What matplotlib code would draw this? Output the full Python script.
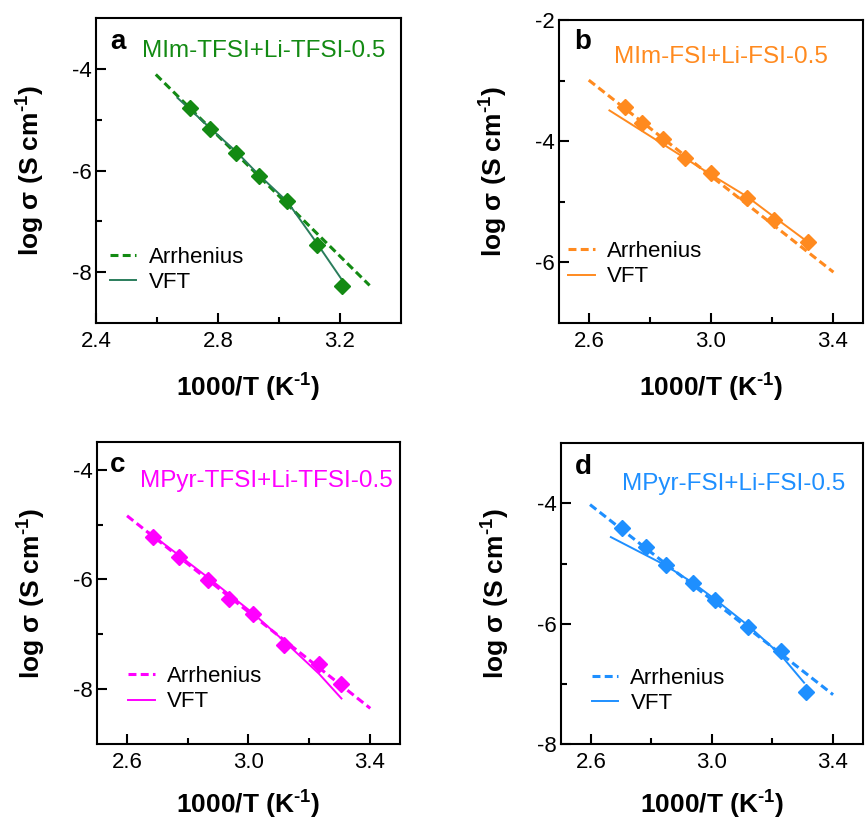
import matplotlib
matplotlib.use("Agg")
import matplotlib.pyplot as plt

plt.rcParams['font.family'] = ['Liberation Sans', 'DejaVu Sans']
plt.rcParams['axes.unicode_minus'] = False
plt.rcParams['mathtext.fontset'] = 'custom'
plt.rcParams['mathtext.rm'] = 'Liberation Sans:bold'
plt.rcParams['mathtext.bf'] = 'Liberation Sans:bold'
plt.rcParams['mathtext.default'] = 'bf'

# ---- data ----
# panel a
a_x = [2.708, 2.775, 2.860, 2.933, 3.027, 3.125, 3.207]
a_y = [-4.77, -5.19, -5.65, -6.11, -6.59, -7.47, -8.28]
a_arr_x = [2.596, 3.297]
a_arr_y = [-4.11, -8.26]
a_vft_x = [2.667, 2.775, 2.860, 2.933, 3.027, 3.123, 3.212]
a_vft_y = [-4.57, -5.17, -5.63, -6.08, -6.61, -7.42, -8.20]
# panel b
b_x = [2.718, 2.772, 2.843, 2.916, 3.000, 3.118, 3.208, 3.320]
b_y = [-3.43, -3.69, -3.97, -4.27, -4.53, -4.93, -5.30, -5.67]
b_arr_x = [2.598, 3.403]
b_arr_y = [-2.99, -6.16]
b_vft_x = [2.666, 2.843, 3.000, 3.118, 3.208, 3.334]
b_vft_y = [-3.49, -4.05, -4.55, -4.91, -5.25, -5.72]
# panel c
c_x = [2.687, 2.772, 2.868, 2.937, 3.016, 3.117, 3.233, 3.307]
c_y = [-5.23, -5.59, -6.01, -6.35, -6.63, -7.19, -7.55, -7.91]
c_arr_x = [2.600, 3.402]
c_arr_y = [-4.84, -8.35]
c_vft_x = [2.674, 2.868, 3.016, 3.117, 3.233, 3.307]
c_vft_y = [-5.15, -5.97, -6.62, -7.12, -7.72, -8.17]
# panel d
d_x = [2.704, 2.783, 2.847, 2.937, 3.012, 3.120, 3.228, 3.310]
d_y = [-4.415, -4.725, -5.02, -5.33, -5.61, -6.06, -6.46, -7.13]
d_arr_x = [2.597, 3.401]
d_arr_y = [-4.02, -7.18]
d_vft_x = [2.666, 2.847, 2.937, 3.012, 3.120, 3.228, 3.305]
d_vft_y = [-4.56, -5.03, -5.32, -5.60, -6.03, -6.52, -6.98]

letters = ['a', 'b', 'c', 'd']
titles = ['MIm-TFSI+Li-TFSI-0.5', 'MIm-FSI+Li-FSI-0.5',
          'MPyr-TFSI+Li-TFSI-0.5', 'MPyr-FSI+Li-FSI-0.5']
colors = ['#138a13', '#ff8a1f', '#ff00ff', '#1e8fff']
vft_colors = ['#2a7d5c', '#ff8a1f', '#ff00ff', '#1e8fff']

panels = [
    dict(x=a_x, y=a_y, ax_=a_arr_x, ay_=a_arr_y, vx=a_vft_x, vy=a_vft_y,
         xlim=(2.4, 3.4), ylim=(-9, -3), xmaj=[2.4, 2.8, 3.2], ymaj=[-8, -6, -4],
         pos=[0.111, 0.6075, 0.3526, 0.3706], xlp=14,
         letpos=(0.046, 0.898), titpos=(0.551, 0.873), legpos=(0.045, 0.174)),
    dict(x=b_x, y=b_y, ax_=b_arr_x, ay_=b_arr_y, vx=b_vft_x, vy=b_vft_y,
         xlim=(2.5, 3.5), ylim=(-7, -2), xmaj=[2.6, 3.0, 3.4], ymaj=[-6, -4, -2],
         pos=[0.6462, 0.6075, 0.3514, 0.368], xlp=14,
         letpos=(0.049, 0.904), titpos=(0.533, 0.857), legpos=(0.031, 0.194)),
    dict(x=c_x, y=c_y, ax_=c_arr_x, ay_=c_arr_y, vx=c_vft_x, vy=c_vft_y,
         xlim=(2.5, 3.5), ylim=(-9, -3.5), xmaj=[2.6, 3.0, 3.4], ymaj=[-8, -6, -4],
         pos=[0.1118, 0.0960, 0.3506, 0.3666], xlp=11,
         letpos=(0.044, 0.903), titpos=(0.56, 0.853), legpos=(0.104, 0.182)),
    dict(x=d_x, y=d_y, ax_=d_arr_x, ay_=d_arr_y, vx=d_vft_x, vy=d_vft_y,
         xlim=(2.5, 3.5), ylim=(-8, -3), xmaj=[2.6, 3.0, 3.4], ymaj=[-8, -6, -4],
         pos=[0.6482, 0.0960, 0.3495, 0.3654], xlp=11,
         letpos=(0.048, 0.898), titpos=(0.573, 0.845), legpos=(0.102, 0.177)),
]

fig = plt.figure(figsize=(8.65, 8.23), dpi=100)

for i, p in enumerate(panels):
    ax = fig.add_axes(p['pos'])
    col = colors[i]
    ax.plot(p['ax_'], p['ay_'], linestyle=(0, (2.6, 1.4)), color=col, lw=2.2,
            label='Arrhenius', zorder=2)
    ax.plot(p['vx'], p['vy'], '-', color=vft_colors[i], lw=1.4, label='VFT', zorder=3)
    ax.plot(p['x'], p['y'], 'D', color=col, ms=8.4, mec=col, zorder=4,
            label='_nolegend_')
    ax.set_xlim(*p['xlim'])
    ax.set_ylim(*p['ylim'])
    ax.set_xticks(p['xmaj'])
    ax.set_xticklabels(['%.1f' % v for v in p['xmaj']])
    ax.set_xticks([v + 0.2 for v in p['xmaj']
                   if v + 0.2 < p['xlim'][1] - 1e-6], minor=True)
    ax.set_yticks(p['ymaj'])
    ax.set_yticklabels(['%d' % v for v in p['ymaj']])
    ax.set_yticks([v + 1 for v in p['ymaj'] if v + 1 < p['ylim'][1] - 1e-6] +
                  ([p['ymaj'][0] - 1] if p['ymaj'][0] - 1 > p['ylim'][0] + 1e-6 else []),
                  minor=True)
    ax.tick_params(which='both', direction='in', top=False, right=False,
                   labelsize=16, width=1.5)
    ax.tick_params(which='major', length=7)
    ax.tick_params(which='minor', length=4.3)
    ax.tick_params(axis='x', pad=6)
    ax.tick_params(axis='y', pad=3)
    for s in ax.spines.values():
        s.set_linewidth(1.5)
    ax.set_xlabel('1000/T (K$^{\u2010 1}$)', fontsize=19, fontweight='bold',
                  labelpad=p['xlp'])
    ax.set_ylabel('log σ (S cm$^{\u2010 1}$)', fontsize=19, fontweight='bold',
                  labelpad=18)
    ax.text(p['letpos'][0], p['letpos'][1], letters[i], transform=ax.transAxes,
            fontsize=20, fontweight='bold', ha='left', va='baseline', color='black')
    ax.text(p['titpos'][0], p['titpos'][1], titles[i], transform=ax.transAxes,
            fontsize=17.5, ha='center', va='baseline', color=col)
    ax.legend(loc='center left', bbox_to_anchor=p['legpos'], frameon=False,
              fontsize=16, handlelength=1.2, handletextpad=0.55,
              borderpad=0, borderaxespad=0, labelspacing=0.2)

fig.savefig('out.png', dpi=100)
